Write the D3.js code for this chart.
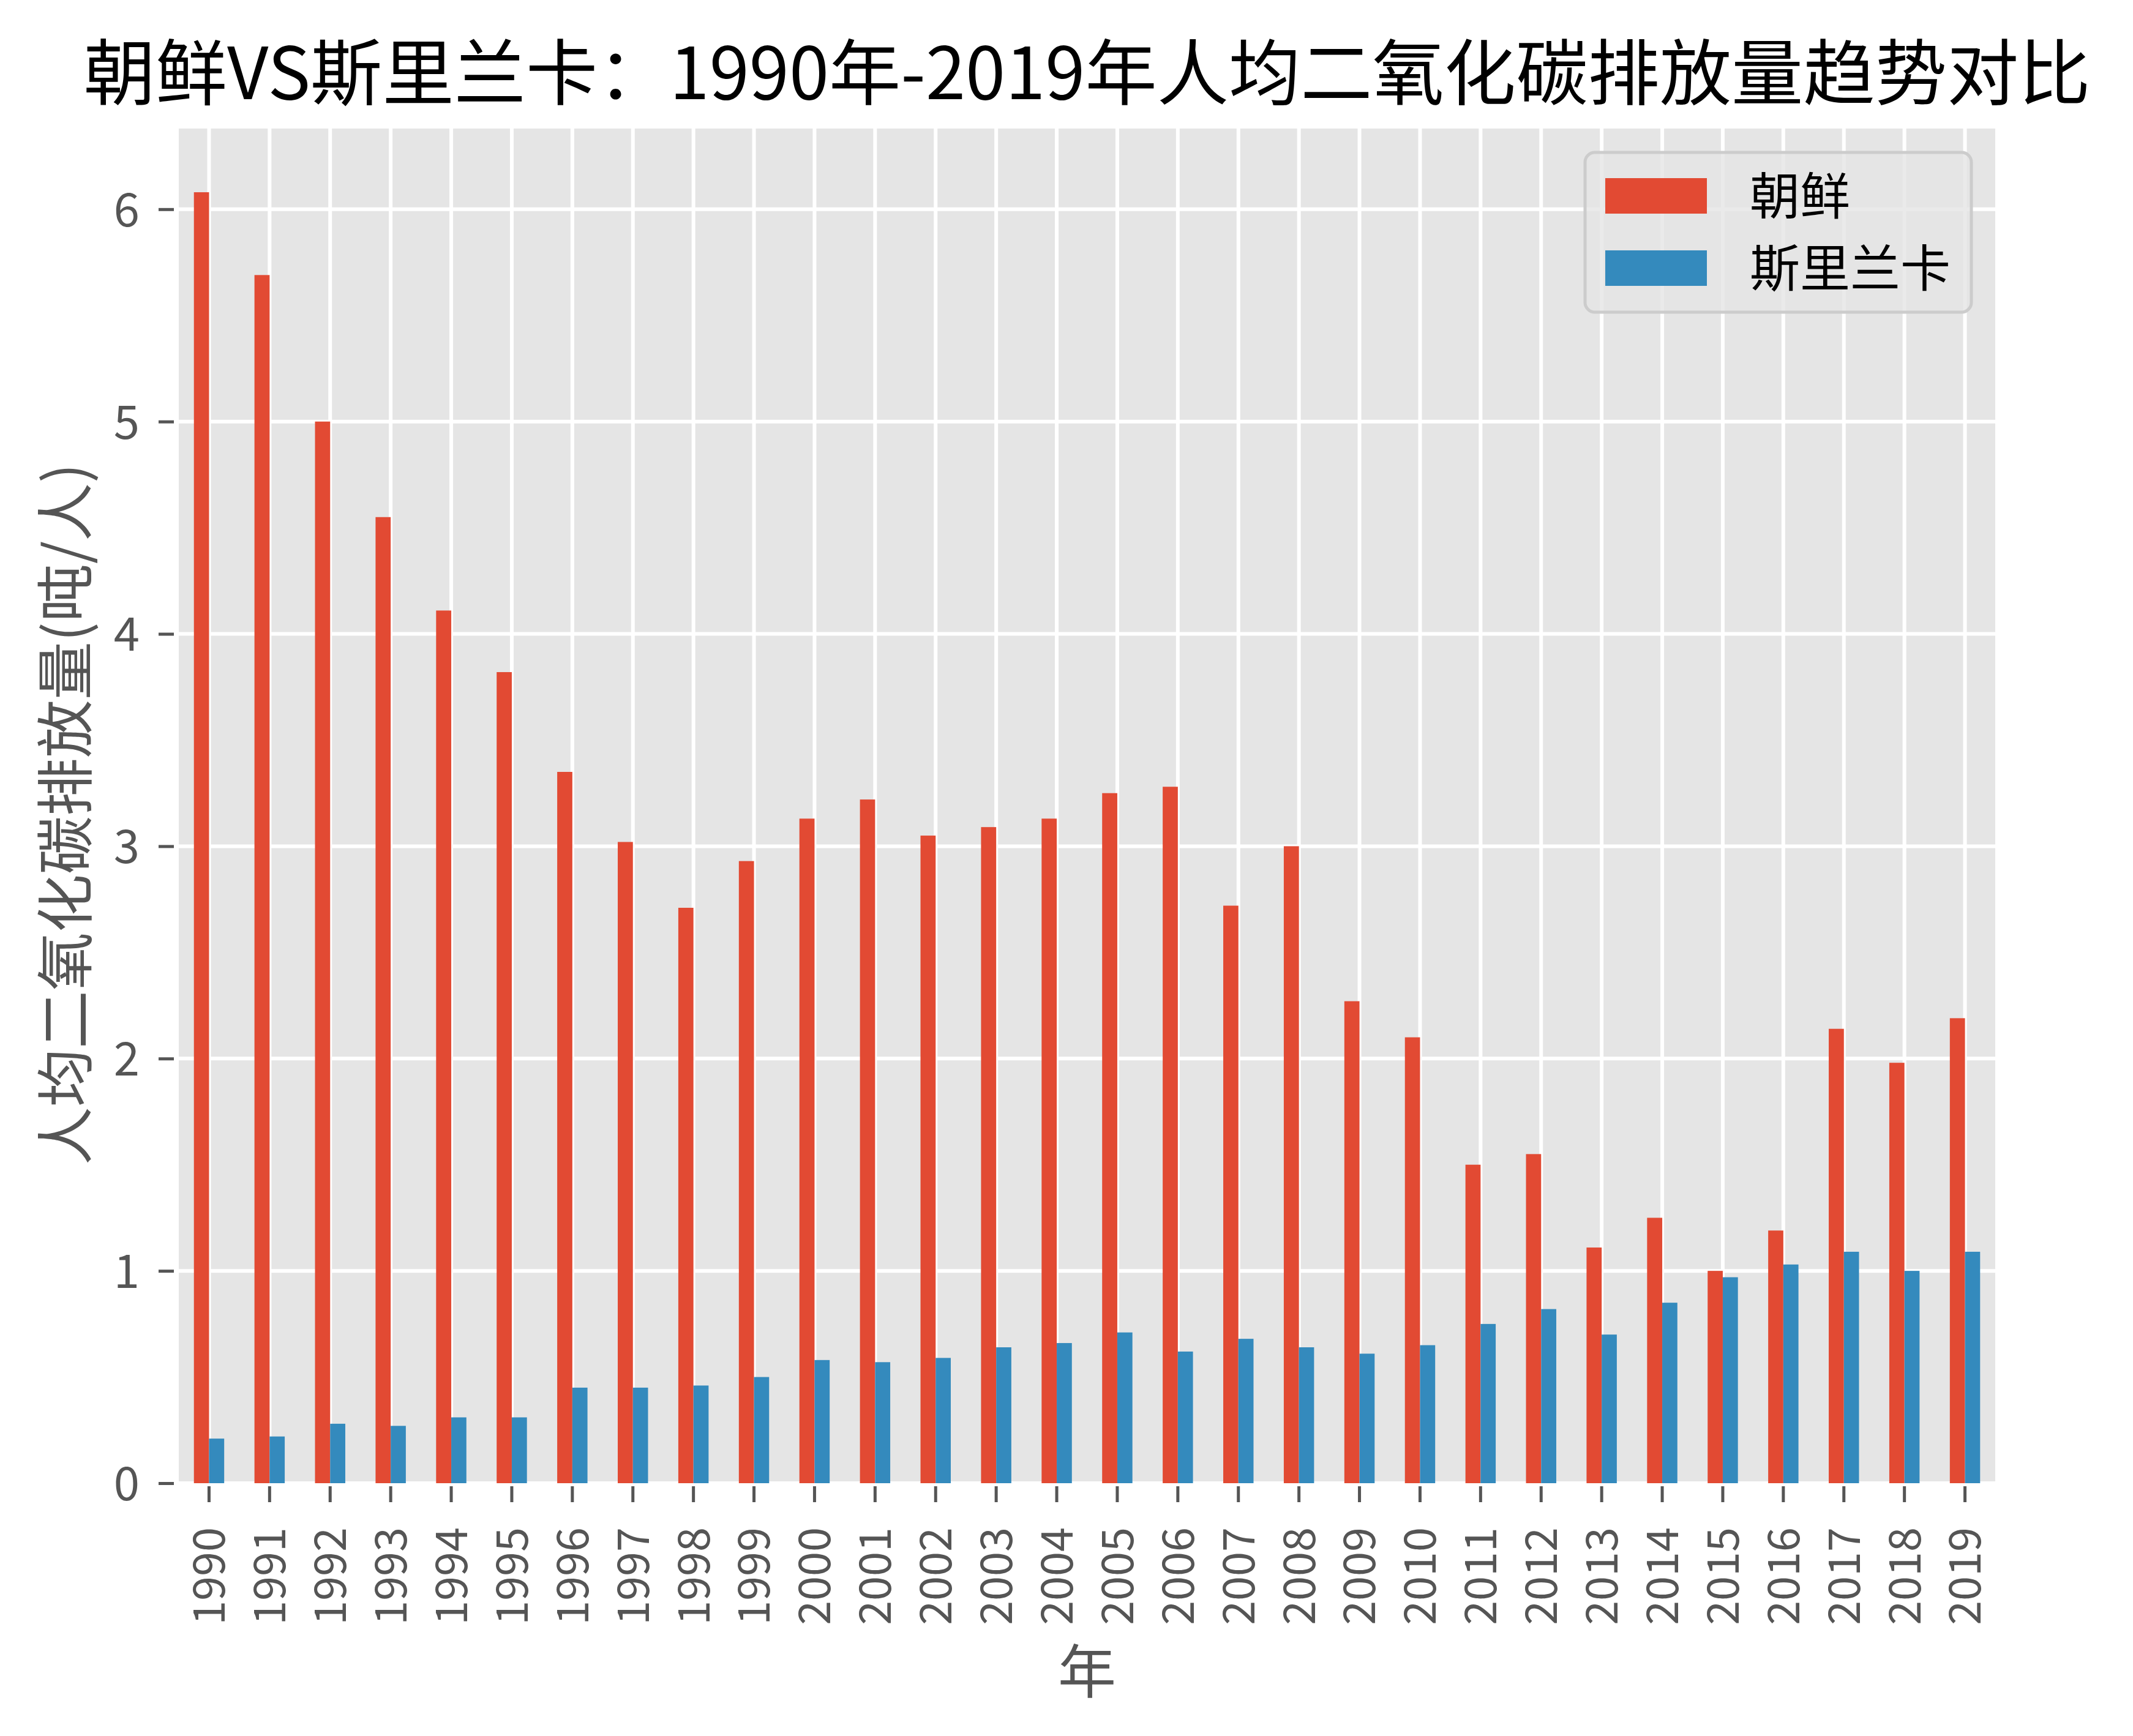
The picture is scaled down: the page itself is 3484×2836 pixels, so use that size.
<!DOCTYPE html>
<html><head><meta charset="utf-8">
<script src="https://cdn.jsdelivr.net/npm/d3@7"></script>
<style>html,body{margin:0;padding:0;background:#fff;} svg{display:block}</style>
</head><body><svg id="c" width="3484" height="2836"></svg>
<script>
const years = ["1990","1991","1992","1993","1994","1995","1996","1997","1998","1999",
               "2000","2001","2002","2003","2004","2005","2006","2007","2008","2009",
               "2010","2011","2012","2013","2014","2015","2016","2017","2018","2019"];
const dprk = [6.08,5.69,5.00,4.55,4.11,3.82,3.35,3.02,2.71,2.93,
              3.13,3.22,3.05,3.09,3.13,3.25,3.28,2.72,3.00,2.27,
              2.10,1.50,1.55,1.11,1.25,1.00,1.19,2.14,1.98,2.19];
const sriLanka = [0.21,0.22,0.28,0.27,0.31,0.31,0.45,0.45,0.46,0.50,
                  0.58,0.57,0.59,0.64,0.66,0.71,0.62,0.68,0.64,0.61,
                  0.65,0.75,0.82,0.70,0.85,0.97,1.03,1.09,1.00,1.09];
const yTicks = [0,1,2,3,4,5,6];
const seriesNames = ["朝鲜","斯里兰卡"];
const titleText = "朝鲜VS斯里兰卡：1990年-2019年人均二氧化碳排放量趋势对比";
const xLabelText = "年";
const yLabelText = "人均二氧化碳排放量(吨/人)";

const W = 3484, H = 2836;
const m = {left: 292, right: 3259, top: 210, bottom: 2423};
const colors = ["#E24A33", "#348ABD"];
const cjk = "'Noto Sans CJK SC', sans-serif";
const numFont = "'Noto Sans CJK SC', sans-serif";
const axisColor = "#555555";

const svg = d3.select("#c");
svg.append("rect").attr("width", W).attr("height", H).attr("fill", "#fff");

const x = d3.scaleBand().domain(years).range([m.left, m.right]).padding(0);
const y = d3.scaleLinear().domain([0, 6.38]).range([m.bottom, m.top]);
const bw = x.bandwidth();

// plot background
svg.append("rect").attr("x", m.left).attr("y", m.top)
  .attr("width", m.right - m.left).attr("height", m.bottom - m.top)
  .attr("fill", "#E5E5E5");

// grid
const grid = svg.append("g").attr("stroke", "#fff").attr("stroke-width", 6);
grid.selectAll("line.h").data(yTicks).join("line").attr("class", "h")
  .attr("x1", m.left).attr("x2", m.right)
  .attr("y1", d => y(d)).attr("y2", d => y(d));
grid.selectAll("line.v").data(years).join("line").attr("class", "v")
  .attr("y1", m.top).attr("y2", m.bottom)
  .attr("x1", d => x(d) + bw / 2).attr("x2", d => x(d) + bw / 2);

// bars
const series = [dprk, sriLanka];
series.forEach((vals, si) => {
  svg.append("g").selectAll("rect").data(years).join("rect")
    .attr("x", d => x(d) + bw / 2 + (si === 0 ? -0.25 * bw : 0))
    .attr("width", 0.25 * bw)
    .attr("y", (d, i) => y(vals[i]))
    .attr("height", (d, i) => y(0) - y(vals[i]))
    .attr("fill", colors[si]);
});

// x axis
const xAxis = svg.append("g").attr("transform", `translate(0,${m.bottom + 5})`)
  .call(d3.axisBottom(x).tickSize(26).tickSizeOuter(0));
xAxis.select(".domain").remove();
xAxis.selectAll(".tick line").attr("stroke", axisColor).attr("stroke-width", 5);
xAxis.selectAll(".tick text")
  .attr("transform", "rotate(-90)")
  .attr("text-anchor", "end")
  .attr("x", -67).attr("y", 0).attr("dy", "0.36em")
  .attr("fill", axisColor)
  .style("font-family", numFont).style("font-size", "72px");

// y axis
const yAxis = svg.append("g").attr("transform", `translate(${m.left - 8},0)`)
  .call(d3.axisLeft(y).tickValues(yTicks).tickFormat(d3.format("d")).tickSize(25).tickSizeOuter(0));
yAxis.select(".domain").remove();
yAxis.selectAll(".tick line").attr("stroke", axisColor).attr("stroke-width", 5);
yAxis.selectAll(".tick text")
  .attr("x", -56).attr("dy", "0.36em")
  .attr("fill", axisColor)
  .style("font-family", numFont).style("font-size", "76px");

// axis labels
svg.append("text").attr("x", (m.left + m.right) / 2).attr("y", 2766)
  .attr("text-anchor", "middle").attr("fill", axisColor)
  .style("font-family", cjk).style("font-size", "95px").text(xLabelText);
svg.append("text").attr("transform", "translate(106,1330) rotate(-90)")
  .attr("text-anchor", "middle").attr("dy", "0.38em").attr("fill", axisColor)
  .style("font-family", cjk).style("font-size", "95px").text(yLabelText);

// title
const title = svg.append("text").attr("x", (m.left + m.right) / 2).attr("y", 162)
  .attr("text-anchor", "middle").attr("fill", "#000")
  .style("font-family", cjk).style("font-size", "119px").style("font-weight", 400)
  .text(titleText);
const tw = title.node().getComputedTextLength();
if (tw > 0) title.style("font-size", (119 * 3278 / tw).toFixed(1) + "px");

// legend
const lg = svg.append("g");
lg.append("rect").attr("x", 2589).attr("y", 249).attr("width", 631).attr("height", 261)
  .attr("rx", 16).attr("fill", "#E5E5E5").attr("fill-opacity", 0.8)
  .attr("stroke", "#CCCCCC").attr("stroke-width", 5);
seriesNames.forEach((name, i) => {
  const cy = 320 + i * 118;
  lg.append("rect").attr("x", 2622).attr("y", cy - 29).attr("width", 166).attr("height", 58)
    .attr("fill", colors[i]);
  lg.append("text").attr("x", 2858).attr("y", cy).attr("dy", "0.37em")
    .attr("fill", "#000").style("font-family", cjk).style("font-size", "82px").text(name);
});
</script>
</body></html>
